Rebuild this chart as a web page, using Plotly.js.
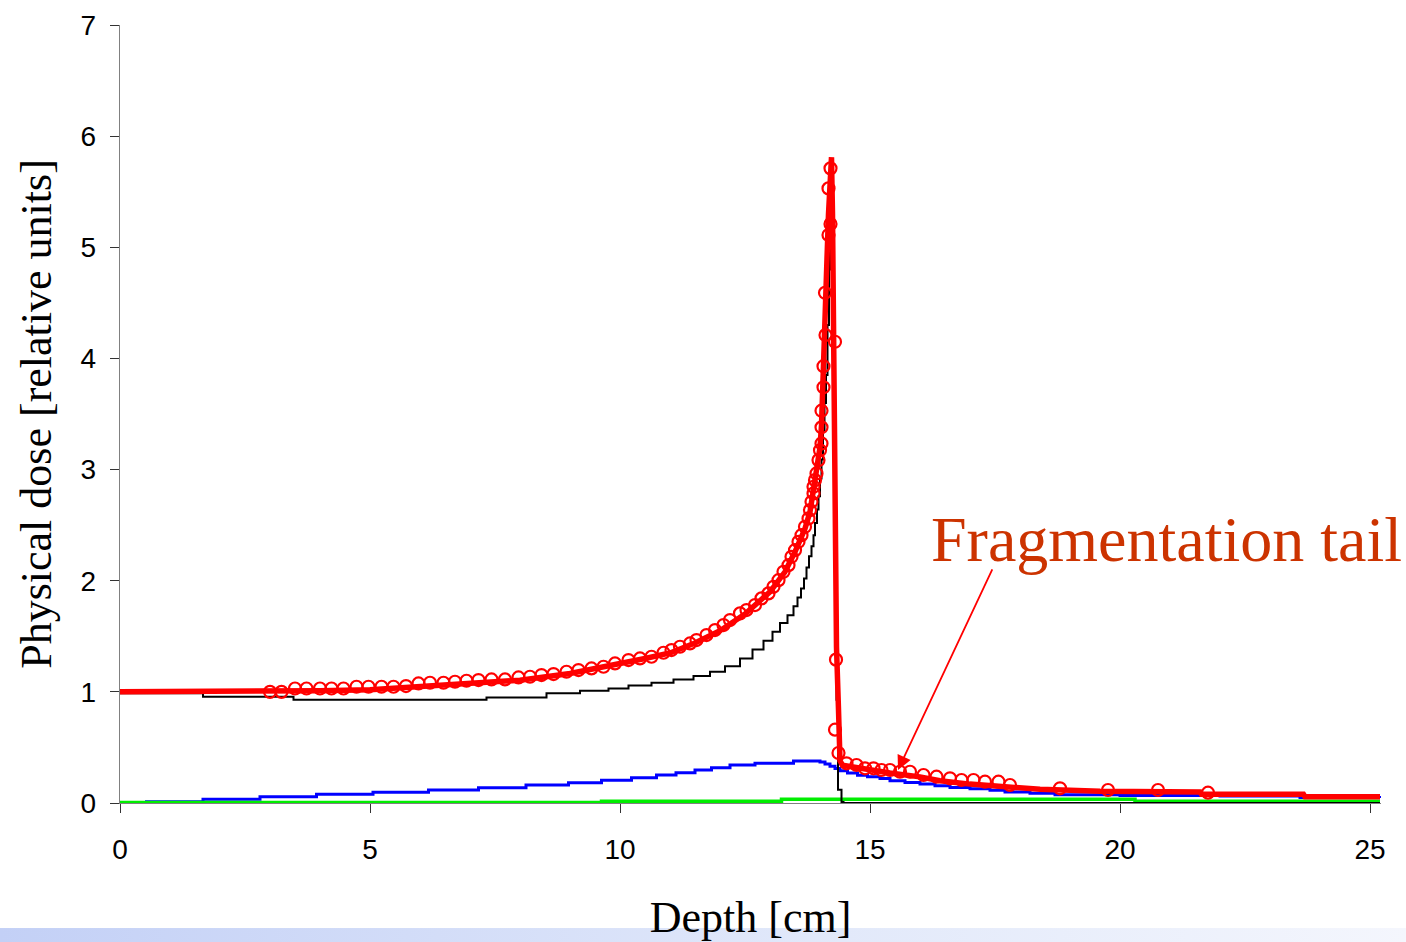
<!DOCTYPE html>
<html>
<head>
<meta charset="utf-8">
<script src="https://cdn.plot.ly/plotly-3.0.1.min.js"></script>
<style>html,body{margin:0;padding:0;background:#fff;}#chart{width:1406px;height:942px;}</style>
</head>
<body>
<div id="chart"></div>
<script>
// ---- Data ----
const xTickVals = [0, 5, 10, 15, 20, 25];
const yTickVals = [0, 1, 2, 3, 4, 5, 6, 7];

// Total physical dose (red line)
const totalX = [0, 3.0, 4, 5, 6, 7, 8, 9, 10, 10.5, 11, 11.5, 12, 12.5, 13, 13.3, 13.5, 13.7, 13.8, 13.9, 14.0, 14.03, 14.07, 14.1, 14.14, 14.17, 14.2, 14.23, 14.25, 14.27, 14.3, 14.33, 14.37, 14.4, 14.45, 14.8, 15.4, 16.0, 16.4, 17.0, 17.87, 18.4, 19.6, 20.5, 21.6, 21.63, 23.67, 23.7, 25.2];
const totalY = [1.0, 1.0, 1.01, 1.02, 1.045, 1.075, 1.105, 1.165, 1.25, 1.30, 1.35, 1.44, 1.55, 1.70, 1.90, 2.08, 2.26, 2.47, 2.62, 2.88, 3.2, 3.4, 3.85, 4.4, 4.9, 5.3, 5.65, 5.81, 5.3, 4.0, 2.88, 1.4, 0.84, 0.38, 0.34, 0.31, 0.27, 0.235, 0.2, 0.17, 0.14, 0.123, 0.105, 0.10, 0.10, 0.078, 0.078, 0.057, 0.057];

// Primary ions (black line, stepped)
const primaryX = [0, 1.66, 3.47, 7.33, 8.53, 9.2, 9.77, 10.17, 10.63, 11.07, 11.47, 11.8, 12.1, 12.4, 12.65, 12.87, 13.05, 13.2, 13.35, 13.47, 13.55, 13.62, 13.68, 13.73, 13.78, 13.83, 13.87, 13.9, 13.94, 13.97, 14.0, 14.03, 14.06, 14.09, 14.12, 14.15, 14.18, 14.2, 14.22, 14.25, 14.27, 14.29, 14.31, 14.33, 14.36, 14.43, 14.47, 25.2];
const primaryY = [0.987, 0.956, 0.93, 0.95, 0.987, 1.01, 1.03, 1.058, 1.082, 1.112, 1.142, 1.18, 1.23, 1.30, 1.38, 1.46, 1.54, 1.62, 1.69, 1.77, 1.85, 1.93, 2.02, 2.12, 2.22, 2.31, 2.41, 2.52, 2.64, 2.76, 2.92, 3.09, 3.35, 3.6, 3.85, 4.3, 4.8, 5.2, 5.45, 5.0, 4.0, 2.8, 1.8, 0.93, 0.12, 0.01, 0.0, 0.0];

// Fragments (blue line, stepped)
const fragAX = [0.5, 1.66, 2.8, 3.93, 5.06, 6.17, 7.17, 8.12, 8.97, 9.63, 10.23, 10.73, 11.12, 11.5, 11.83, 12.2, 12.7, 13.47, 14.0, 14.1, 14.2, 14.3, 14.4, 14.55, 14.75, 14.95, 15.2, 15.4, 15.7, 16.0, 16.3, 16.6, 17.0, 17.4, 17.7, 18.2, 18.7, 20.0, 22.0, 23.6, 25.2];
const fragAY = [0.012, 0.033, 0.057, 0.078, 0.096, 0.117, 0.138, 0.162, 0.183, 0.204, 0.228, 0.252, 0.272, 0.297, 0.317, 0.342, 0.357, 0.378, 0.37, 0.35, 0.33, 0.31, 0.29, 0.27, 0.25, 0.237, 0.22, 0.20, 0.185, 0.17, 0.155, 0.14, 0.128, 0.115, 0.10, 0.088, 0.075, 0.068, 0.062, 0.05, 0.045];

// Other fragments (green line, stepped)
const fragBX = [0, 9.63, 13.23, 20.3, 25.2];
const fragBY = [0.004, 0.016, 0.034, 0.016, 0.016];

// Measured points (red open circles)
const measX = [3.0, 3.23, 3.5, 3.73, 4.0, 4.23, 4.47, 4.73, 4.97, 5.23, 5.47, 5.72, 5.97, 6.2, 6.47, 6.7, 6.93, 7.17, 7.43, 7.7, 7.97, 8.2, 8.43, 8.67, 8.93, 9.17, 9.43, 9.67, 9.9, 10.17, 10.4, 10.63, 10.87, 11.03, 11.2, 11.4, 11.53, 11.73, 11.9, 12.07, 12.2, 12.4, 12.53, 12.7, 12.83, 12.97, 13.07, 13.17, 13.27, 13.37, 13.43, 13.5, 13.57, 13.63, 13.7, 13.77, 13.8, 13.83, 13.87, 13.87, 13.9, 13.93, 13.97, 14.0, 14.03, 14.03, 14.03, 14.07, 14.07, 14.11, 14.1, 14.17, 14.21, 14.17, 14.21, 14.3, 14.32, 14.3, 14.37, 14.53, 14.73, 14.9, 15.07, 15.23, 15.4, 15.6, 15.8, 16.07, 16.33, 16.6, 16.83, 17.07, 17.3, 17.57, 17.8, 18.8, 19.76, 20.76, 21.76];
const measY = [1.0, 1.0, 1.03, 1.03, 1.03, 1.03, 1.03, 1.046, 1.046, 1.046, 1.046, 1.052, 1.076, 1.082, 1.082, 1.091, 1.10, 1.106, 1.112, 1.112, 1.13, 1.136, 1.151, 1.16, 1.181, 1.196, 1.211, 1.226, 1.256, 1.286, 1.301, 1.316, 1.352, 1.376, 1.406, 1.436, 1.466, 1.511, 1.556, 1.601, 1.646, 1.706, 1.736, 1.781, 1.841, 1.886, 1.945, 2.005, 2.08, 2.14, 2.215, 2.275, 2.35, 2.41, 2.485, 2.56, 2.635, 2.71, 2.785, 2.845, 2.905, 2.965, 3.085, 3.174, 3.235, 3.38, 3.53, 3.74, 3.93, 4.21, 4.59, 5.11, 5.21, 5.53, 5.71, 4.15, 1.29, 0.66, 0.45, 0.357, 0.342, 0.312, 0.312, 0.297, 0.297, 0.281, 0.281, 0.252, 0.237, 0.222, 0.207, 0.207, 0.192, 0.192, 0.162, 0.132, 0.117, 0.117, 0.093];

const annText = 'Fragmentation tail';
const annPos = [20.92, 2.37];
const arrowTip = [15.56, 0.297];

// ---- Traces ----
const traces = [
  {x: fragAX, y: fragAY, mode: 'lines', line: {color: '#0000ff', width: 3, shape: 'hv'}, hoverinfo: 'skip'},
  {x: fragBX, y: fragBY, mode: 'lines', line: {color: '#00ee00', width: 3.5, shape: 'hv'}, hoverinfo: 'skip'},
  {x: primaryX, y: primaryY, mode: 'lines', line: {color: '#000000', width: 2, shape: 'hv'}, hoverinfo: 'skip'},
  {x: totalX, y: totalY, mode: 'lines', line: {color: '#ff0000', width: 5.5}, hoverinfo: 'skip'},
  {x: measX, y: measY, mode: 'markers', marker: {symbol: 'circle-open', size: 12, color: '#ff0000', line: {color: '#ff0000', width: 2.2}}, hoverinfo: 'skip', cliponaxis: false}
];

const bandSvg = '<svg xmlns="http://www.w3.org/2000/svg" viewBox="0 0 100 10" preserveAspectRatio="none"><defs><linearGradient id="g" x1="0" x2="1" y1="0" y2="0"><stop offset="0" stop-color="#c3d0f6"/><stop offset="0.6" stop-color="#e2e9fa"/><stop offset="1" stop-color="#f4f6fd"/></linearGradient></defs><rect width="100" height="10" fill="url(#g)"/></svg>';
const bandUri = 'data:image/svg+xml;charset=utf-8,' + encodeURIComponent(bandSvg);

const tickFont = {family: 'Liberation Sans, Arial, sans-serif', size: 28, color: '#000'};
const titleFont = {family: 'Liberation Serif, Times New Roman, serif', size: 44, color: '#000'};

const layout = {
  width: 1406, height: 942,
  margin: {l: 120, r: 25, t: 25, b: 139},
  paper_bgcolor: '#ffffff', plot_bgcolor: '#ffffff',
  showlegend: false,
  xaxis: {
    range: [0, 25.22], tickvals: xTickVals, ticktext: xTickVals.map(String),
    ticks: 'outside', ticklen: 9, tickwidth: 1, tickcolor: '#333',
    showline: true, linecolor: '#808080', linewidth: 1.2,
    showgrid: false, zeroline: false, tickfont: tickFont, ticklabelstandoff: 12,
    title: {text: 'Depth [cm]', font: titleFont, standoff: 45}
  },
  yaxis: {
    range: [0, 7], tickvals: yTickVals, ticktext: yTickVals.map(String),
    ticks: 'outside', ticklen: 9, tickwidth: 1, tickcolor: '#333',
    showline: true, linecolor: '#808080', linewidth: 1.2,
    showgrid: false, zeroline: false, tickfont: tickFont, ticklabelstandoff: 8,
    title: {text: 'Physical dose [relative units]', font: titleFont, standoff: 15}
  },
  xaxis2: {
    overlaying: 'x', anchor: 'y', side: 'bottom', range: [0, 25.22], tickvals: xTickVals,
    ticks: 'inside', ticklen: 8, tickwidth: 1, tickcolor: '#333',
    showticklabels: false, showline: false, showgrid: false, zeroline: false
  },
  yaxis2: {
    overlaying: 'y', anchor: 'x', side: 'left', range: [0, 7], tickvals: yTickVals,
    ticks: 'inside', ticklen: 8, tickwidth: 1, tickcolor: '#333',
    showticklabels: false, showline: false, showgrid: false, zeroline: false
  },
  images: [{
    source: bandUri, xref: 'paper', yref: 'paper',
    x: -0.0952, y: -0.1607, sizex: 1.115, sizey: 0.019,
    xanchor: 'left', yanchor: 'top', sizing: 'stretch', layer: 'below'
  }],
  annotations: [
    {x: annPos[0], y: annPos[1], xref: 'x', yref: 'y', text: annText, showarrow: false,
     font: {family: 'Liberation Serif, Times New Roman, serif', size: 64, color: '#cc3300'},
     xanchor: 'center', yanchor: 'middle'},
    {x: arrowTip[0], y: arrowTip[1], xref: 'x', yref: 'y', text: '', showarrow: true,
     ax: 95, ay: -202, axref: 'pixel', ayref: 'pixel',
     arrowhead: 2, arrowsize: 1.6, arrowwidth: 1.8, arrowcolor: '#ff0000', standoff: 0, startstandoff: 0}
  ]
};

Plotly.newPlot('chart', traces, layout, {displayModeBar: false, staticPlot: true});
</script>
</body>
</html>
